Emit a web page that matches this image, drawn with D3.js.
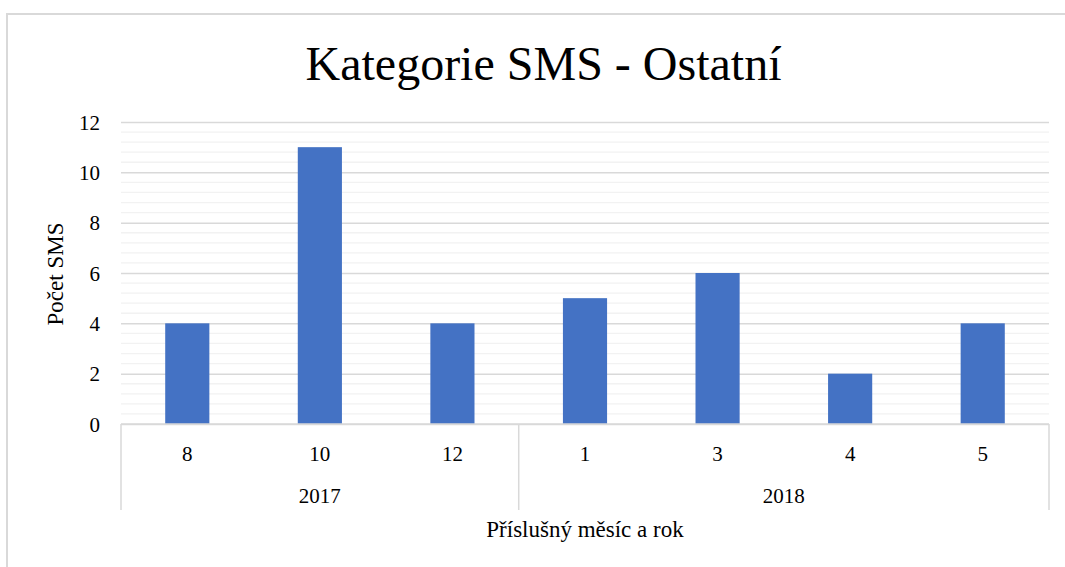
<!DOCTYPE html>
<html>
<head>
<meta charset="utf-8">
<script src="https://cdn.jsdelivr.net/npm/d3@7"></script>
<style>
  html, body { margin: 0; padding: 0; background: #fff; }
  svg { display: block; }
</style>
</head>
<body>
<svg id="chart" width="1065" height="567"></svg>
<script>
// Monthly counts of "Ostatní" SMS messages
const months = ["8", "10", "12", "1", "3", "4", "5"];
const years = ["2017", "2017", "2017", "2018", "2018", "2018", "2018"];
const counts = [4, 11, 4, 5, 6, 2, 4];
const yTicks = [0, 2, 4, 6, 8, 10, 12];

const title = "Kategorie SMS - Ostatní";
const yTitle = "Počet SMS";
const xTitle = "Příslušný měsíc a rok";

const FONT = "'Times New Roman', 'Liberation Serif', 'DejaVu Serif', serif";
const W = 1065, H = 567;
const plot = { left: 121, right: 1049, top: 122, bottom: 424 };

const svg = d3.select("#chart");

// Chart frame
svg.append("rect")
  .attr("x", 7).attr("y", 14)
  .attr("width", W + 10).attr("height", H + 10)
  .attr("fill", "none").attr("stroke", "#d9d9d9").attr("stroke-width", 2);

const keys = months.map((m, i) => i);
const x = d3.scaleBand().domain(keys).range([plot.left, plot.right]).paddingInner(0).paddingOuter(0);
const y = d3.scaleLinear().domain([0, 12]).range([plot.bottom, plot.top]);

// Minor gridlines
const minor = d3.range(0, 12.0001, 0.4).filter(v => Math.abs(v / 2 - Math.round(v / 2)) > 1e-6);
svg.append("g").selectAll("line").data(minor).join("line")
  .attr("x1", plot.left).attr("x2", plot.right)
  .attr("y1", d => y(d)).attr("y2", d => y(d))
  .attr("stroke", "#f2f2f2").attr("stroke-width", 1.3);

// Major gridlines and value axis labels
const yAxis = d3.axisLeft(y).tickValues(yTicks).tickSize(-(plot.right - plot.left)).tickPadding(21).tickFormat(d3.format("d"));
const gy = svg.append("g").attr("transform", `translate(${plot.left},0)`).call(yAxis);
gy.attr("font-family", null).attr("font-size", null);
gy.select(".domain").remove();
gy.selectAll(".tick line").attr("stroke", "#d9d9d9").attr("stroke-width", 1.5);
gy.selectAll(".tick text")
  .style("font-family", FONT).style("font-size", "21px")
  .attr("fill", "#000").attr("dy", "0.34em");

// Bars
const bw = x.bandwidth() * 0.333;
svg.append("g").selectAll("rect").data(counts).join("rect")
  .attr("x", (d, i) => x(i) + (x.bandwidth() - bw) / 2)
  .attr("width", bw)
  .attr("y", d => y(d))
  .attr("height", d => y(0) - y(d))
  .attr("fill", "#4472C4");

// Category axis line
svg.append("line")
  .attr("x1", plot.left).attr("x2", plot.right)
  .attr("y1", plot.bottom).attr("y2", plot.bottom)
  .attr("stroke", "#d9d9d9").attr("stroke-width", 1.5);

// Group separators (left edge, year boundaries, right edge)
const groupBounds = [plot.left];
years.forEach((yr, i) => { if (i > 0 && yr !== years[i - 1]) groupBounds.push(x(i)); });
groupBounds.push(plot.right);
svg.append("g").selectAll("line").data(groupBounds).join("line")
  .attr("x1", d => d).attr("x2", d => d)
  .attr("y1", plot.bottom).attr("y2", 510)
  .attr("stroke", "#d9d9d9").attr("stroke-width", 1.5);

function label(sel, size) {
  return sel.style("font-family", FONT).style("font-size", size + "px").attr("fill", "#000");
}

// Month labels
svg.append("g").selectAll("text").data(months).join("text")
  .attr("x", (d, i) => x(i) + x.bandwidth() / 2)
  .attr("y", 461)
  .attr("text-anchor", "middle")
  .call(label, 21)
  .text(d => d);

// Year labels centred under their months
const yearGroups = d3.groups(keys, i => years[i]);
svg.append("g").selectAll("text").data(yearGroups).join("text")
  .attr("x", d => (x(d[1][0]) + x(d[1][d[1].length - 1]) + x.bandwidth()) / 2)
  .attr("y", 503)
  .attr("text-anchor", "middle")
  .call(label, 21)
  .text(d => d[0]);

// Titles
svg.append("text")
  .attr("x", 543.5).attr("y", 80)
  .attr("text-anchor", "middle")
  .call(label, 48)
  .text(title);

svg.append("text")
  .attr("transform", `translate(63,274) rotate(-90)`)
  .attr("text-anchor", "middle")
  .call(label, 23)
  .text(yTitle);

svg.append("text")
  .attr("x", (plot.left + plot.right) / 2).attr("y", 537)
  .attr("text-anchor", "middle")
  .call(label, 23)
  .text(xTitle);
</script>
</body>
</html>
